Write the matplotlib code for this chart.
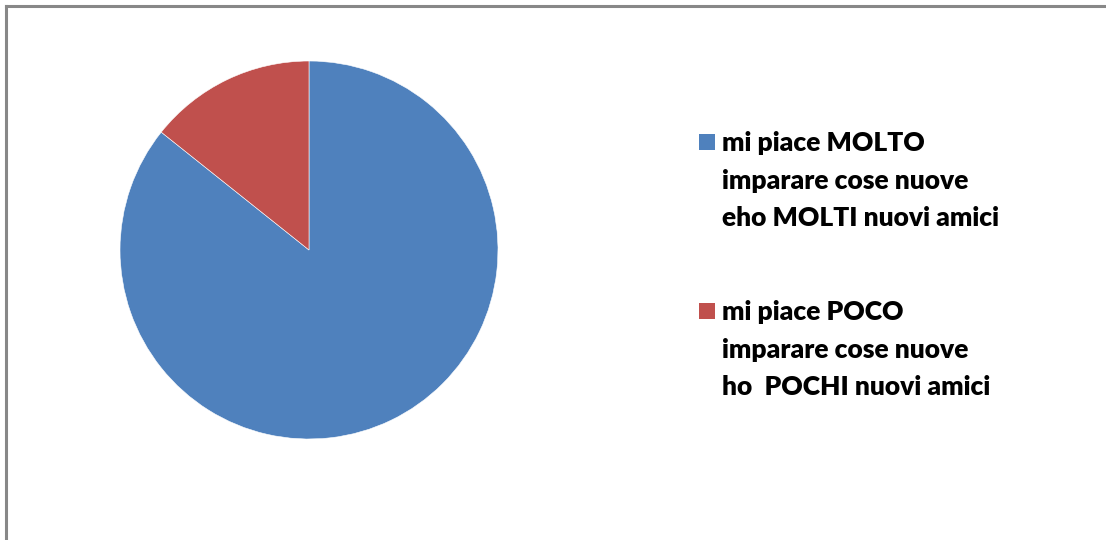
import matplotlib

matplotlib.use("Agg")

import matplotlib.pyplot as plt
from matplotlib.patches import Rectangle
from matplotlib.lines import Line2D

labels = [
    "mi piace MOLTO\nimparare cose nuove\neho MOLTI nuovi amici",
    "mi piace POCO\nimparare cose nuove\nho  POCHI nuovi amici",
]
values = [6, 1]
colors = ["#4F81BD", "#C0504D"]

fig = plt.figure(figsize=(11.06, 5.40), dpi=100)
fig.patch.set_facecolor("white")

# chart frame (only top and left edges visible)
fig.add_artist(Line2D([6 / 1106, 6 / 1106], [0, 1 - 6 / 540], color="#888888", linewidth=2.2))
fig.add_artist(Line2D([6 / 1106, 1], [1 - 6 / 540, 1 - 6 / 540], color="#888888", linewidth=2.2))

ax = fig.add_axes([120 / 1106, 101 / 540, 378 / 1106, 378 / 540])
ax.pie(values, colors=colors, startangle=90, counterclock=False,
       wedgeprops={"edgecolor": "white", "linewidth": 0.4})
ax.set_xlim(-1, 1)
ax.set_ylim(-1, 1)
ax.set_aspect("equal")
ax.axis("off")

# legend
tops = [142, 311]
for label, color, y in zip(labels, colors, tops):
    fig.patches.append(Rectangle((699 / 1106, 1 - (y + 8) / 540), 16 / 1106, 16 / 540,
                                 transform=fig.transFigure, facecolor=color, edgecolor="none"))
    fig.text(722 / 1106, 1 - (y - 11) / 540, label, ha="left", va="top",
             fontsize=19, fontweight="heavy", family="Lato", linespacing=1.68)

fig.savefig("out.png", dpi=100)
